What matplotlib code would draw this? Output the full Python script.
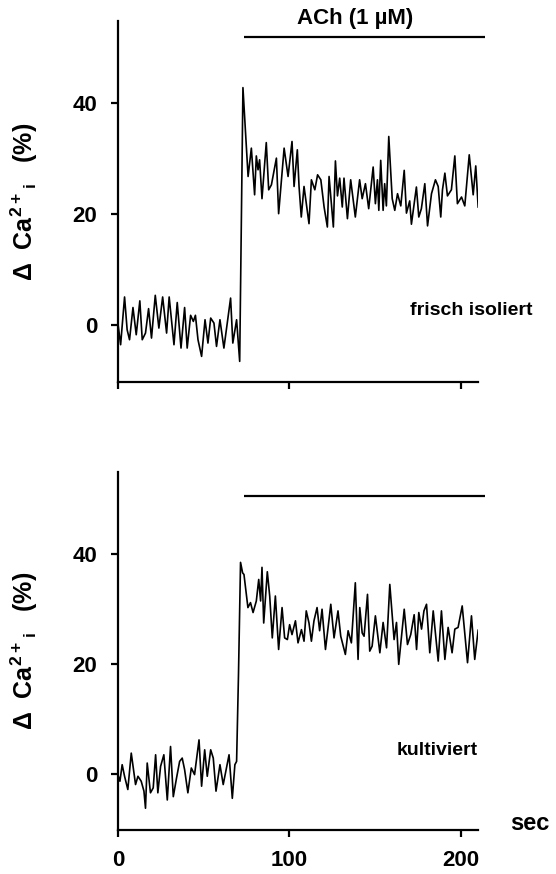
import matplotlib
matplotlib.use("Agg")
import matplotlib.pyplot as plt

# ─── DATA ────────────────────────────────────────────────────────────────────
T_TOP = [0, 1.6, 3.9, 5.4, 6.8, 8.8, 10.7, 12.8, 14.2, 16.1, 17.9, 19.6, 21.8,
         23.9, 26.1, 28.4, 29.9, 32.7, 34.6, 36.8, 38.9, 40.4, 42.4, 44, 45.2,
         46.7, 48.8, 50.8, 52.5, 54.1, 56, 57.5, 59.5, 61.8, 63.8, 65.7, 67,
         69.2, 71,
         72.9, 74.3, 75.9, 77.8, 79.7, 80.7, 81.7, 82.6, 84, 86.5, 87.9, 89.5,
         92.4, 93.7, 96.9, 99.2, 101.5, 102.7, 104.6, 105.6, 106.9, 108.5,
         111.4, 112.8, 114.8, 116.4, 118.3, 120.2, 122.1, 123.1, 125.6, 126.8,
         128, 129.3, 130.8, 131.8, 133.8, 135.7, 138.4, 140.9, 142.4, 144.3,
         146.2, 148.8, 150.1, 151.3, 152.1, 153.2, 154.6, 155.5, 156.5, 157.9,
         159.9, 161.4, 163, 164.9, 166.9, 168.2, 170.1, 171.1, 174, 175.4,
         176.9, 178.9, 180.5, 182.8, 185.1, 186.7, 188.2, 189.2, 190.6, 192.1,
         194.4, 196.4, 197.9, 200.3, 202.2, 204.8, 207.1, 208.6, 210]
CA_TOP = [0.4, -3.5, 5.1, -0.8, -2.6, 3.2, -1.7, 4.4, -2.6, -1.4, 3.0, -2.3, 5.4,
          -0.5, 5.1, -1.4, 5.1, -3.5, 4.1, -4.1, 3.2, -4.1, 1.8, 0.7, 1.8,
          -2.6, -5.6, 1.0, -3.2, 1.3, 0.4, -3.8, 1.0, -4.1, 0.5, 4.9, -3.2,
          1.0, -6.5,
          42.8, 35.3, 26.8, 31.9, 23.5, 30.5, 28, 29.8, 22.8, 32.9, 24.4, 25.3,
          30.1, 20.1, 31.9, 26.8, 33.1, 25, 31.6, 25, 19.5, 25,
          18.3, 26.2, 24.4, 27.1, 26.2, 21.3, 17.7, 26.8, 17.7, 29.6,
          23.3, 26.5, 21.3, 26.5, 19.2, 26.2, 19.5, 26.2, 22.8, 25.5,
          21, 28.5, 21.9, 26.2, 20.7, 29.7, 20.7, 25.5, 21.5, 34.0,
          22.8, 20.7, 23.7, 21.5, 27.9, 20.2, 22.4, 18.2, 24.9, 19.5,
          21, 25.5, 17.9, 23.7, 26.2, 25, 19.5, 24.4, 27.4, 23.3,
          24.4, 30.5, 21.9, 23.1, 21.5, 30.7, 23.5, 28.7, 21.3]

T_BOT = [0, 1.2, 2.5, 3.9, 5.8, 7.8, 10.3, 11.7, 13.6, 15.2, 16.1, 17.1, 19,
         20.6, 22, 23.3, 24.9, 26.8, 28.8, 30.7, 32.3, 34.2, 36, 37.5, 38.9,
         40.8, 42.8, 44.7, 47.3, 48.8, 50.6, 52.1, 54.1, 55.6, 57.2, 59.5,
         61.4, 64.8, 66.7, 68.2, 69.2, 70.3,
         71.5, 72.7, 73.5, 75.8, 77.3, 78.8, 80.7, 82.1, 83.2, 84, 85, 87.1,
         88.5, 90, 91.8, 93.7, 95.7, 97.2, 98.8, 100.1, 101.5, 103.5, 105, 107,
         108.5, 109.8, 111.4, 112.8, 114.3, 116.1, 117.6, 119, 121, 122.5,
         124.1, 126, 128.3, 129.9, 132.6, 134.2, 136.1, 138.4, 140, 141, 142.4,
         143.5, 145.5, 146.8, 148.2, 150.1, 152.7, 154.6, 156.6, 158.5, 161,
         162.4, 163.7, 166.9, 168.8, 170.7, 172.7, 174.1, 175.4, 177, 178.4,
         179.9, 181.8, 183.8, 186.7, 188.6, 190.6, 192.5, 194.8, 196.4, 198.3,
         200.7, 203.8, 206.1, 208, 210]
CA_BOT = [-0.1, -1.3, 1.7, -0.4, -2.8, 3.8, -1.9, -0.4, -1.3, -3.1, -6.2, 2.0, -3.4,
          -2.5, 3.5, -3.4, 1.4, 3.5, -4.7, 5.0, -4.1, -0.7, 2.3, 2.9, 0.8,
          -3.4, 1.1, -0.1, 6.2, -2.2, 4.4, -0.4, 4.4, 2.9, -3.1, 1.7,
          -1.9, 3.5, -4.4, 1.7, 2.3, 18,
          38.4, 36.5, 36.2, 30.2, 31.1, 29.3, 31.4, 35.3, 31.4, 37.5, 27.4, 36.7,
          32.3, 24.7, 32.3, 22.6, 30.2, 24.7, 24.4, 27.1, 25.3, 27.8, 23.8, 26.2,
          24.1, 29.6, 27.4, 24.1, 27.8, 30.2, 26, 29.9, 22.6, 26.5,
          30.8, 24.7, 29.6, 25, 21.7, 26, 23.8, 34.7, 20.8, 30.2, 25.6,
          25, 32.6, 22.3, 23.2, 28.7, 22, 27.5, 22.9, 34.4, 24.4,
          27.5, 19.9, 29.9, 23.5, 25.3, 28.9, 22.6, 29.3, 26.3, 29.6,
          30.8, 22, 29.6, 20.5, 29.6, 20.8, 26.6, 22, 26.3, 26.6,
          30.5, 20.2, 28.7, 20.8, 26.1]

ACH_START = 73.5
ACH_END = 214
ACH_LEVEL = [52, 50.5]
PANEL_LABELS = ["frisch isoliert", "kultiviert"]
X_TICKS = [0, 100, 200]
Y_TICKS = [0, 20, 40]
# ─────────────────────────────────────────────────────────────────────────────

plt.rcParams["font.family"] = "Liberation Sans"
plt.rcParams["font.weight"] = "bold"
plt.rcParams["mathtext.fontset"] = "custom"
plt.rcParams["mathtext.rm"] = "Liberation Sans:bold"
plt.rcParams["mathtext.bf"] = "Liberation Sans:bold"
plt.rcParams["mathtext.default"] = "bf"

fig = plt.figure(figsize=(5.56, 8.74), dpi=100)
ax_top = fig.add_axes([0.212, 0.563, 0.648, 0.413])
ax_bot = fig.add_axes([0.212, 0.050, 0.648, 0.410])

ylabel = r"$\Delta$  Ca$^{2+}$$_{\rm i}$   (%)"

for i, (ax, t, ca) in enumerate([(ax_top, T_TOP, CA_TOP), (ax_bot, T_BOT, CA_BOT)]):
    ax.plot(t, ca, color="black", lw=1.2)
    ax.plot([ACH_START, ACH_END], [ACH_LEVEL[i]] * 2, color="black", lw=1.6,
            clip_on=False, solid_capstyle="butt")
    ax.set_xlim(0, 210)
    ax.set_ylim(-10.2, 54.8)
    for s in ["top", "right"]:
        ax.spines[s].set_visible(False)
    for s in ["left", "bottom"]:
        ax.spines[s].set_linewidth(1.6)
    ax.set_xticks(X_TICKS)
    ax.set_yticks(Y_TICKS)
    ax.tick_params(direction="out", length=5, width=1.6, labelsize=16, pad=10)
    ax.set_ylabel(ylabel, fontsize=18, fontweight="bold")
    ax.yaxis.set_label_coords(-0.215, 0.5)

ax_top.tick_params(axis="x", labelbottom=False)
ax_bot.tick_params(axis="x", pad=9)

ax_top.text(138, 55.2, "ACh (1 µM)", ha="center", va="center", fontsize=16,
            fontweight="bold")
ax_top.text(206, 2.7, PANEL_LABELS[0], ha="center", va="center", fontsize=14,
            fontweight="bold")
ax_bot.text(186, 4.3, PANEL_LABELS[1], ha="center", va="center", fontsize=14,
            fontweight="bold")
ax_bot.text(240, -9.0, "sec", ha="center", va="center", fontsize=17,
            fontweight="bold", clip_on=False)

fig.savefig("out.png", dpi=100)
